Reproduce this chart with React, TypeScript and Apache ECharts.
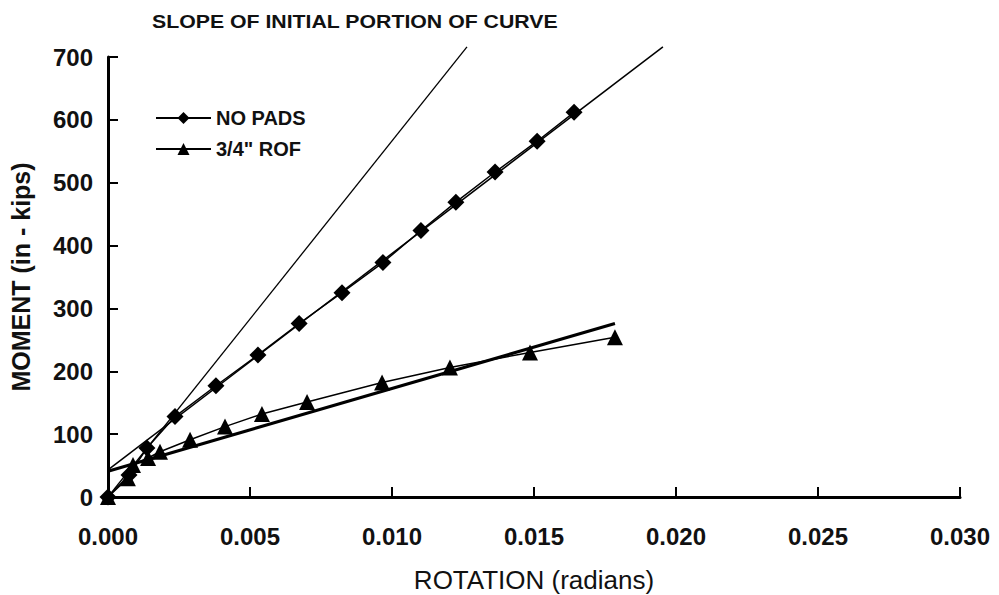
import React, { useEffect, useRef } from "react";
import * as echarts from "echarts";

const TITLE = "SLOPE OF INITIAL PORTION OF CURVE";
const X_NAME = "ROTATION (radians)";
const Y_NAME = "MOMENT (in - kips)";

const noPadsRot = [0, 0.00074, 0.00137, 0.00236, 0.0038, 0.00528, 0.00673, 0.00824, 0.00968, 0.01102, 0.01225, 0.01363, 0.01511, 0.01641];
const noPadsMom = [0, 35, 78, 128, 177, 226, 276, 325, 373, 424, 469, 517, 566, 612];

const rofRot = [0, 0.0007, 0.00088, 0.00141, 0.00183, 0.00289, 0.00412, 0.00542, 0.00701, 0.00965, 0.01204, 0.01486, 0.01785];
const rofMom = [0, 30, 51, 62, 72, 91, 112, 132, 151, 182, 206, 230, 254];

// straight reference lines (endpoints)
const initialSlopeRot = [0, 0.01264];
const initialSlopeMom = [0, 716];
const noPadsFitRot = [0, 0.01954];
const noPadsFitMom = [43, 716];
const rofFitRot = [0, 0.01785];
const rofFitMom = [41, 276];

const zip = (a: number[], b: number[]) => a.map((v, i) => [v, b[i]]);

const FONT = 'Arial, "Liberation Sans", sans-serif';

export default function App() {
  const ref = useRef<HTMLDivElement>(null);
  useEffect(() => {
    if (!ref.current) return;
    const chart = echarts.init(ref.current, undefined, { renderer: "svg" });
    chart.setOption({
      animation: false,
      backgroundColor: "#ffffff",
      grid: { left: 108, right: 39, top: 57, bottom: 98, containLabel: false, outerBoundsMode: "none" },
      graphic: [
        {
          type: "text",
          left: 152,
          top: 12,
          scaleX: 1.12,
          style: {
            text: TITLE,
            fontFamily: FONT,
            fontSize: 19,
            fontWeight: "bold",
            fill: "#111",
          },
        },
      ],
      legend: {
        orient: "vertical",
        left: 150,
        top: 103,
        itemWidth: 55,
        itemHeight: 15,
        itemGap: 11,
        data: ["NO PADS", '3/4" ROF'],
        textStyle: { fontFamily: FONT, fontSize: 20, fontWeight: "bold", color: "#111" },
      },
      xAxis: {
        type: "value",
        min: 0,
        max: 0.03,
        interval: 0.005,
        name: X_NAME,
        nameLocation: "middle",
        nameGap: 70,
        nameTextStyle: { fontFamily: FONT, fontSize: 26, color: "#111" },
        axisLine: { show: true, onZero: false, lineStyle: { color: "#000", width: 3 } },
        axisTick: { show: true, inside: true, length: 10, lineStyle: { color: "#000", width: 2 } },
        axisLabel: {
          margin: 27,
          fontFamily: FONT,
          fontSize: 24,
          fontWeight: "bold",
          color: "#111",
          formatter: (v: number) => v.toFixed(3),
        },
        splitLine: { show: false },
      },
      yAxis: {
        type: "value",
        min: 0,
        max: 700,
        interval: 100,
        name: Y_NAME,
        nameLocation: "middle",
        nameGap: 75,
        nameTextStyle: { fontFamily: FONT, fontSize: 25, fontWeight: "bold", color: "#111" },
        axisLine: { show: true, lineStyle: { color: "#000", width: 3 } },
        axisTick: { show: true, inside: true, length: 10, lineStyle: { color: "#000", width: 2 } },
        axisLabel: {
          margin: 15,
          fontFamily: FONT,
          fontSize: 24,
          fontWeight: "bold",
          color: "#111",
        },
        splitLine: { show: false },
      },
      series: [
        {
          name: "NO PADS",
          type: "line",
          data: zip(noPadsRot, noPadsMom),
          symbol: "diamond",
          symbolSize: 17,
          itemStyle: { color: "#000" },
          lineStyle: { color: "#000", width: 1.5 },
          z: 5,
        },
        {
          name: '3/4" ROF',
          type: "line",
          data: zip(rofRot, rofMom),
          symbol: "triangle",
          symbolSize: 16,
          itemStyle: { color: "#000" },
          lineStyle: { color: "#000", width: 1.5 },
          z: 5,
        },
        {
          name: "initial slope",
          type: "line",
          data: zip(initialSlopeRot, initialSlopeMom),
          showSymbol: false,
          symbol: "none",
          clip: false,
          lineStyle: { color: "#000", width: 1.3 },
        },
        {
          name: "no pads fit",
          type: "line",
          data: zip(noPadsFitRot, noPadsFitMom),
          showSymbol: false,
          symbol: "none",
          clip: false,
          lineStyle: { color: "#000", width: 1.5 },
        },
        {
          name: "rof fit",
          type: "line",
          data: zip(rofFitRot, rofFitMom),
          showSymbol: false,
          symbol: "none",
          clip: false,
          lineStyle: { color: "#000", width: 3.2 },
        },
      ],
    });
    return () => chart.dispose();
  }, []);
  return (
    <div
      ref={ref}
      style={{ position: "fixed", left: 0, top: 0, width: 999, height: 595, background: "#fff" }}
    />
  );
}
